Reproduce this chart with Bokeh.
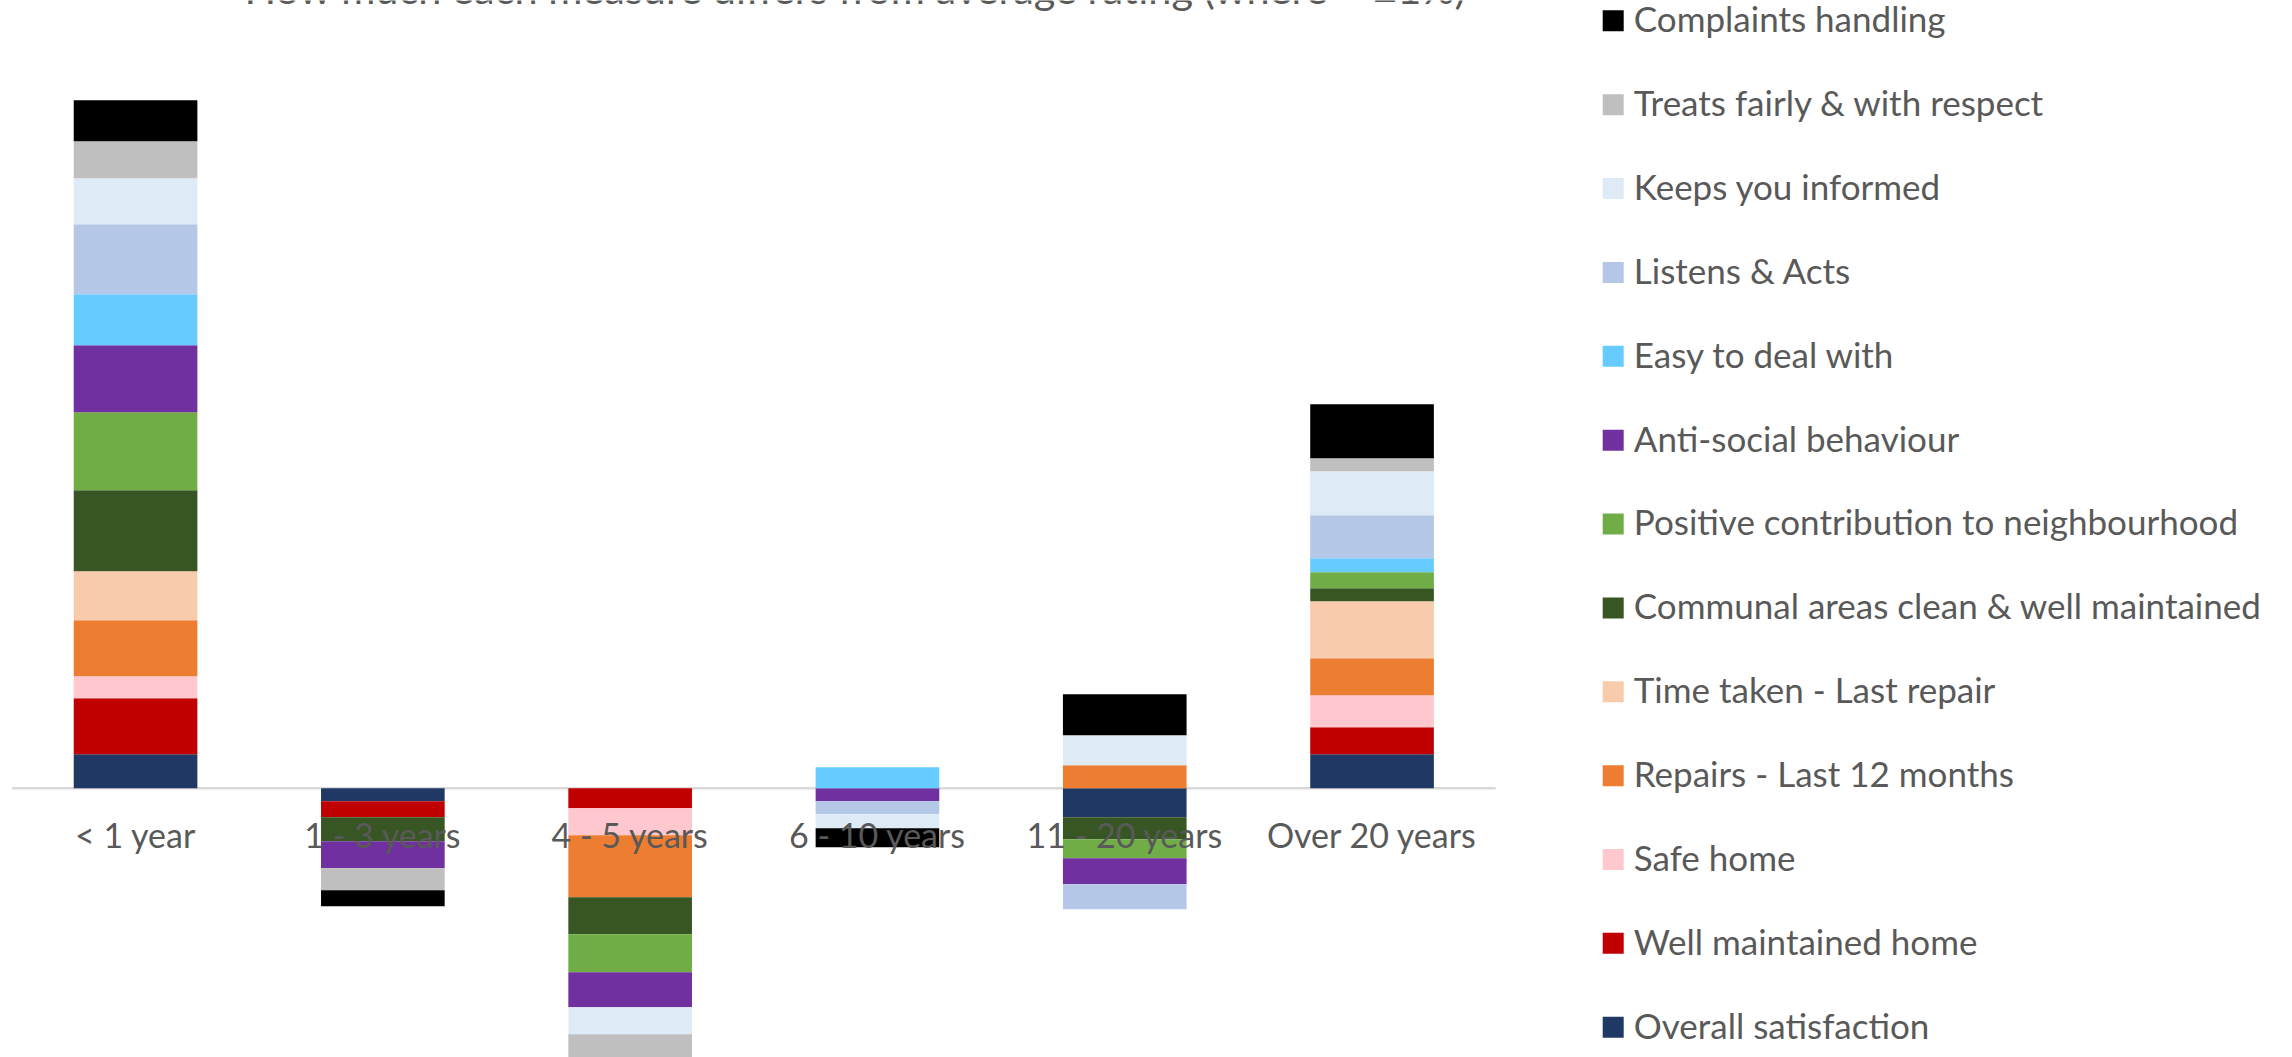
from bokeh.plotting import figure
from bokeh.layouts import row
from bokeh.core.properties import value
from bokeh.embed import file_html
from bokeh.resources import INLINE

# Tenancy length groups (x categories)
periods = ["< 1 year", "1 - 3 years", "4 - 5 years", "6 - 10 years",
           "11 - 20 years", "Over 20 years"]

# Measures in stacking order (first = closest to the zero line)
measures = ["Overall satisfaction", "Well maintained home", "Safe home",
            "Repairs - Last 12 months", "Time taken - Last repair",
            "Communal areas clean & well maintained",
            "Positive contribution to neighbourhood", "Anti-social behaviour",
            "Easy to deal with", "Listens & Acts", "Keeps you informed",
            "Treats fairly & with respect", "Complaints handling"]

colors = ["#203864", "#C00000", "#FFC7CE", "#ED7D31", "#F8CBAD", "#375623",
          "#70AD47", "#7030A0", "#66CCFF", "#B4C7E7", "#DEEBF7", "#BFBFBF",
          "#000000"]

# Difference from the average rating, percentage points (0 = within +/-1%)
overall_satisfaction = [3.4, -1.3, 0.0, 0.0, -2.9, 3.4]
well_maintained_home = [5.6, -1.6, -2.0, 0.0, 0.0, 2.7]
safe_home = [2.2, 0.0, -2.7, 0.0, 0.0, 3.2]
repairs_last_12_months = [5.6, 0.0, -6.2, 0.0, 2.3, 3.7]
time_taken_last_repair = [4.9, 0.0, 0.0, 0.0, 0.0, 5.7]
communal_areas = [8.1, -2.4, -3.7, 0.0, -2.2, 1.3]
positive_contribution = [7.8, 0.0, -3.8, 0.0, -1.9, 1.6]
anti_social_behaviour = [6.7, -2.7, -3.5, -1.3, -2.6, 0.0]
easy_to_deal_with = [5.1, 0.0, 0.0, 2.1, 0.0, 1.4]
listens_and_acts = [7.0, 0.0, 0.0, -1.3, -2.5, 4.3]
keeps_you_informed = [4.6, 0.0, -2.7, -1.4, 3.0, 4.4]
treats_fairly = [3.7, -2.2, -2.6, 0.0, 0.0, 1.3]
complaints_handling = [4.1, -1.6, 0.0, -1.9, 4.1, 5.4]

series = [overall_satisfaction, well_maintained_home, safe_home,
          repairs_last_12_months, time_taken_last_repair, communal_areas,
          positive_contribution, anti_social_behaviour, easy_to_deal_with,
          listens_and_acts, keeps_you_informed, treats_fairly,
          complaints_handling]

title_text = "How much each measure differs from average rating (where > \u00b11%)"

TEXT_COLOR = "#595959"
FONT = "Lato"
LABEL_PX = 34
LEGEND_PX = 35
TITLE_PX = 41.5
BASE_SHIFT = 0.39        # baseline correction, in em

# ---- chart geometry (pixels) ----
W, H = 2292, 1057
CHART_W = 1580
LEFT_PAD = 11.4          # left edge of first category band
BAND_PX = 247.3          # width of one category band
ZERO_PX = 787.7          # distance of the zero line from the top
PX_PER_PT = 10.0         # vertical pixels per percentage point

x_start = -LEFT_PAD / BAND_PX
x_end = (CHART_W - LEFT_PAD) / BAND_PX
y_end = ZERO_PX / PX_PER_PT
y_start = -(H - ZERO_PX) / PX_PER_PT

p = figure(width=CHART_W, height=H, x_range=(x_start, x_end),
           y_range=(y_start, y_end), output_backend="svg",
           toolbar_location=None, x_axis_type=None, y_axis_type=None,
           min_border=0, background_fill_color="white",
           border_fill_color="white")
p.grid.visible = False
p.outline_line_color = None

n = len(periods)
centers = [i + 0.5 for i in range(n)]

# zero line across the plot area
p.segment(x0=[0], y0=[0], x1=[n], y1=[0], line_color="#D9D9D9", line_width=2.5)

# stacked bars: positives stack upward, negatives stack downward
pos_acc = [0.0] * n
neg_acc = [0.0] * n
for vals, col in zip(series, colors):
    bottoms, tops, xs = [], [], []
    for i, v in enumerate(vals):
        if v == 0:
            continue
        if v > 0:
            b = pos_acc[i]
            pos_acc[i] += v
        else:
            b = neg_acc[i]
            neg_acc[i] += v
        xs.append(centers[i])
        bottoms.append(b)
        tops.append(b + v)
    p.vbar(x=xs, bottom=bottoms, top=tops, width=0.5, fill_color=col,
           line_color=None)

# category labels next to the zero line, drawn over the bars
p.text(x=centers, y=[0] * n, text=periods, text_align="center",
       text_baseline="alphabetic", y_offset=59.3 - BASE_SHIFT * LABEL_PX,
       text_font=value(FONT), text_font_size=f"{LABEL_PX}px",
       text_color=TEXT_COLOR)

# chart title (top edge of the chart area)
title_x = (855 - LEFT_PAD) / BAND_PX
p.text(x=[title_x], y=[y_end], text=[title_text], text_align="center",
       text_baseline="alphabetic", y_offset=4 - BASE_SHIFT * TITLE_PX,
       text_font=value(FONT), text_font_size=f"{TITLE_PX}px",
       text_color=TEXT_COLOR)

# ---- legend panel: data units equal pixels ----
LEG_W = W - CHART_W
lg = figure(width=LEG_W, height=H, x_range=(0, LEG_W), y_range=(H, 0),
            output_backend="svg", toolbar_location=None, x_axis_type=None,
            y_axis_type=None, min_border=0, background_fill_color="white",
            border_fill_color="white")
lg.grid.visible = False
lg.outline_line_color = None

legend_labels = measures[::-1]
legend_colors = colors[::-1]
first_y, step = 20.3, 83.87
ys = [first_y + k * step for k in range(len(legend_labels))]
sq_x = 1612.7 - CHART_W
lg.rect(x=[sq_x] * len(ys), y=ys, width=21, height=21,
        fill_color=legend_colors, line_color=None)
lg.text(x=[1633.3 - CHART_W] * len(ys),
        y=[yy + 11 - BASE_SHIFT * LEGEND_PX for yy in ys],
        text=legend_labels, text_align="left", text_baseline="alphabetic",
        text_font=value(FONT), text_font_size=f"{LEGEND_PX}px",
        text_color=TEXT_COLOR)

layout = row(p, lg, spacing=0)
open("out.html", "w").write(file_html(layout, INLINE))
